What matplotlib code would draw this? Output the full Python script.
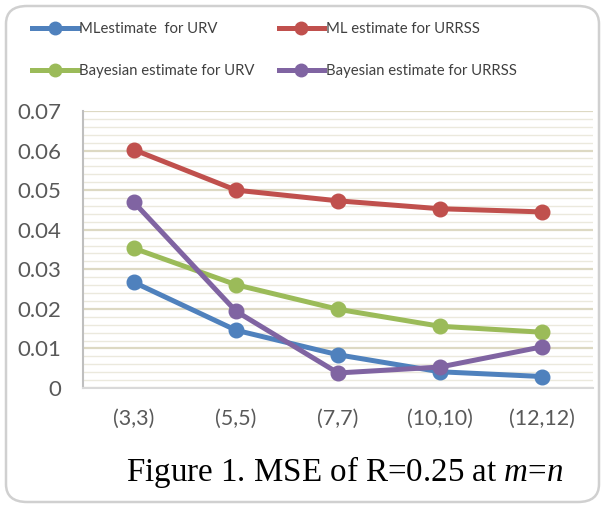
import matplotlib
matplotlib.use("Agg")
import matplotlib.pyplot as plt
from matplotlib.patches import FancyBboxPatch
from matplotlib.ticker import MultipleLocator
from matplotlib.lines import Line2D

plt.rcParams["mathtext.fontset"] = "custom"
plt.rcParams["mathtext.it"] = "Liberation Serif:italic"
plt.rcParams["mathtext.rm"] = "Liberation Serif"

categories = ["(3,3)", "(5,5)", "(7,7)", "(10,10)", "(12,12)"]
ml_urv = [0.0267, 0.0146, 0.0084, 0.0041, 0.0029]
ml_urrss = [0.0602, 0.0500, 0.0473, 0.0453, 0.0445]
bayes_urv = [0.0353, 0.0261, 0.0199, 0.0156, 0.0141]
bayes_urrss = [0.0469, 0.0194, 0.0038, 0.0053, 0.0104]
labels = ["MLestimate  for URV", "ML estimate for URRSS",
          "Bayesian estimate for URV", "Bayesian estimate for URRSS"]
colors = ["#4f81bd", "#c0504d", "#9bbb59", "#8064a2"]
yticks = [0, 0.01, 0.02, 0.03, 0.04, 0.05, 0.06, 0.07]
ytick_labels = ["0", "0.01", "0.02", "0.03", "0.04", "0.05", "0.06", "0.07"]

W, H = 605, 508
fig = plt.figure(figsize=(W / 100, H / 100), dpi=100)

# rounded border
border = FancyBboxPatch((6 / W, 6 / H), (W - 12) / W, (H - 12) / H,
                        boxstyle="round,pad=0,rounding_size=0.035",
                        transform=fig.transFigure, facecolor="white",
                        edgecolor="#d0d0d0", linewidth=1.8, zorder=-5)
fig.patches.append(border)

ax = fig.add_axes([83 / W, 1 - 388 / H, 510 / W, 277 / H])
ax.set_zorder(2)
ax.set_facecolor("none")
x = list(range(len(categories)))
series = [ml_urv, ml_urrss, bayes_urv, bayes_urrss]
order = [1, 2, 0, 3]
for k, i in enumerate(order):
    ax.plot(x, series[i], color=colors[i], linewidth=3.6, marker="o",
            markersize=10.5, solid_capstyle="round", zorder=3 + k)

ax.set_xlim(-0.5, len(categories) - 0.5)
ax.set_ylim(0, 0.07)
ax.set_yticks(yticks)
ax.set_yticklabels(ytick_labels, fontsize=16, color="#595959", family="Lato")
ax.yaxis.set_minor_locator(MultipleLocator(0.002))
ax.set_xticks(x)
ax.set_xticklabels(categories, fontsize=15.5, color="#595959", family="Lato")
ax.tick_params(axis="both", which="both", length=0)
ax.tick_params(axis="y", pad=15.5)
ax.tick_params(axis="x", pad=15)
ax.grid(axis="y", which="major", color="#ddd9c3", linewidth=1.6, zorder=1)
ax.grid(axis="y", which="minor", color="#ebe9dd", linewidth=1.0, zorder=1)
ax.set_axisbelow(True)
for s in ["top", "right"]:
    ax.spines[s].set_visible(False)
ax.spines["left"].set_color("#bfbfbf")
ax.spines["left"].set_linewidth(1.5)
ax.spines["bottom"].set_color("#d9d9d9")
ax.spines["bottom"].set_linewidth(1.5)

handles = [Line2D([0], [0], color=colors[i], linewidth=3.6, marker="o",
                  markersize=9) for i in range(4)]
leg_order = [0, 2, 1, 3]
leg = fig.legend([handles[i] for i in leg_order], [labels[i] for i in leg_order],
                 loc="upper left", bbox_to_anchor=(19 / W, 1 - 9 / H), ncol=2,
                 frameon=False, prop={"family": "Lato", "size": 10.7},
                 handlelength=3.05, handletextpad=0.12, columnspacing=1.6,
                 labelspacing=1.85, labelcolor="#404040")

fig.text(345 / W, 1 - 472 / H, "Figure 1. MSE of R=0.25 at $\\mathit{m}$=$\\mathit{n}$",
         ha="center", va="center", fontsize=23.8, family="Liberation Serif",
         color="black")

fig.savefig("out.png", dpi=100)
